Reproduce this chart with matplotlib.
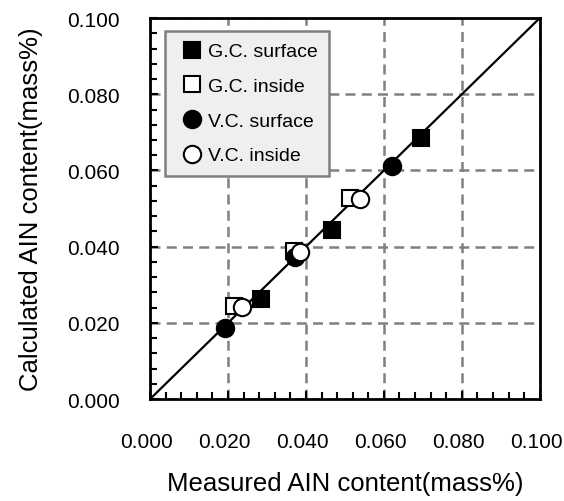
import numpy as np
import matplotlib.pyplot as plt
from matplotlib.ticker import MultipleLocator
from matplotlib.transforms import ScaledTranslation

plt.rcParams['font.family'] = ['Liberation Sans', 'DejaVu Sans']

# measured / calculated AlN content (mass%)
gc_surface_x = [0.0284, 0.0467, 0.0695]
gc_surface_y = [0.0262, 0.0444, 0.0685]
gc_inside_x = [0.0216, 0.0369, 0.0513]
gc_inside_y = [0.0245, 0.0389, 0.0527]
vc_surface_x = [0.0192, 0.0372, 0.0620]
vc_surface_y = [0.0186, 0.0372, 0.0612]
vc_inside_x = [0.0235, 0.0385, 0.0540]
vc_inside_y = [0.0243, 0.0385, 0.0525]

fig = plt.figure(figsize=(5.64, 5.02), dpi=100)
ax = fig.add_axes([0.266, 0.203, 0.691, 0.759])

ax.plot([0, 0.1], [0, 0.1], color='black', lw=1.6, zorder=2)

ax.plot(gc_surface_x, gc_surface_y, 's', ms=11, mfc='black', mec='black',
        mew=1.5, label='G.C. surface', zorder=3)
ax.plot(gc_inside_x, gc_inside_y, 's', ms=11, mfc='white', mec='black',
        mew=1.5, label='G.C. inside', zorder=3)
ax.plot(vc_surface_x, vc_surface_y, 'o', ms=12.5, mfc='black', mec='black',
        mew=1.5, label='V.C. surface', zorder=3)
ax.plot(vc_inside_x, vc_inside_y, 'o', ms=12.5, mfc='white', mec='black',
        mew=1.5, label='V.C. inside', zorder=3)

ax.set_xlim(0, 0.1)
ax.set_ylim(0, 0.1)
ax.xaxis.set_major_locator(MultipleLocator(0.02))
ax.yaxis.set_major_locator(MultipleLocator(0.02))
ax.xaxis.set_minor_locator(MultipleLocator(0.004))
ax.yaxis.set_minor_locator(MultipleLocator(0.004))
ax.xaxis.set_major_formatter(lambda v, p: f'{v:.3f}')
ax.yaxis.set_major_formatter(lambda v, p: f'{v:.3f}')

ax.tick_params(which='both', direction='in', top=False, right=False,
               labelsize=15, width=1.5)
ax.tick_params(which='major', length=6)
ax.tick_params(which='minor', length=5)
ax.tick_params(axis='x', which='major', pad=24)
ax.tick_params(axis='y', which='major', pad=22)

# x tick labels sit a little left of their ticks in the original
shift = ScaledTranslation(-0.035, 0, fig.dpi_scale_trans)
for lbl in ax.get_xticklabels():
    lbl.set_transform(lbl.get_transform() + shift)

ax.grid(True, which='major', color='#808080', ls=(0, (4, 2.5)), lw=1.8)
ax.set_axisbelow(True)
for s in ax.spines.values():
    s.set_linewidth(2)

ax.set_xlabel('Measured AIN content(mass%)', fontsize=18.5, labelpad=14)
ax.set_ylabel('Calculated AIN content(mass%)', fontsize=18.5, labelpad=17)

leg = ax.legend(loc='upper left', bbox_to_anchor=(0.038, 0.966), fontsize=14,
                frameon=True, fancybox=False, handlelength=1.6,
                handletextpad=0.0, labelspacing=0.88, borderpad=0.6,
                borderaxespad=0)
leg.get_frame().set_facecolor('#efefef')
leg.get_frame().set_edgecolor('#808080')
leg.get_frame().set_linewidth(1.8)
leg.get_frame().set_alpha(1)

fig.savefig('out.png', dpi=100)
